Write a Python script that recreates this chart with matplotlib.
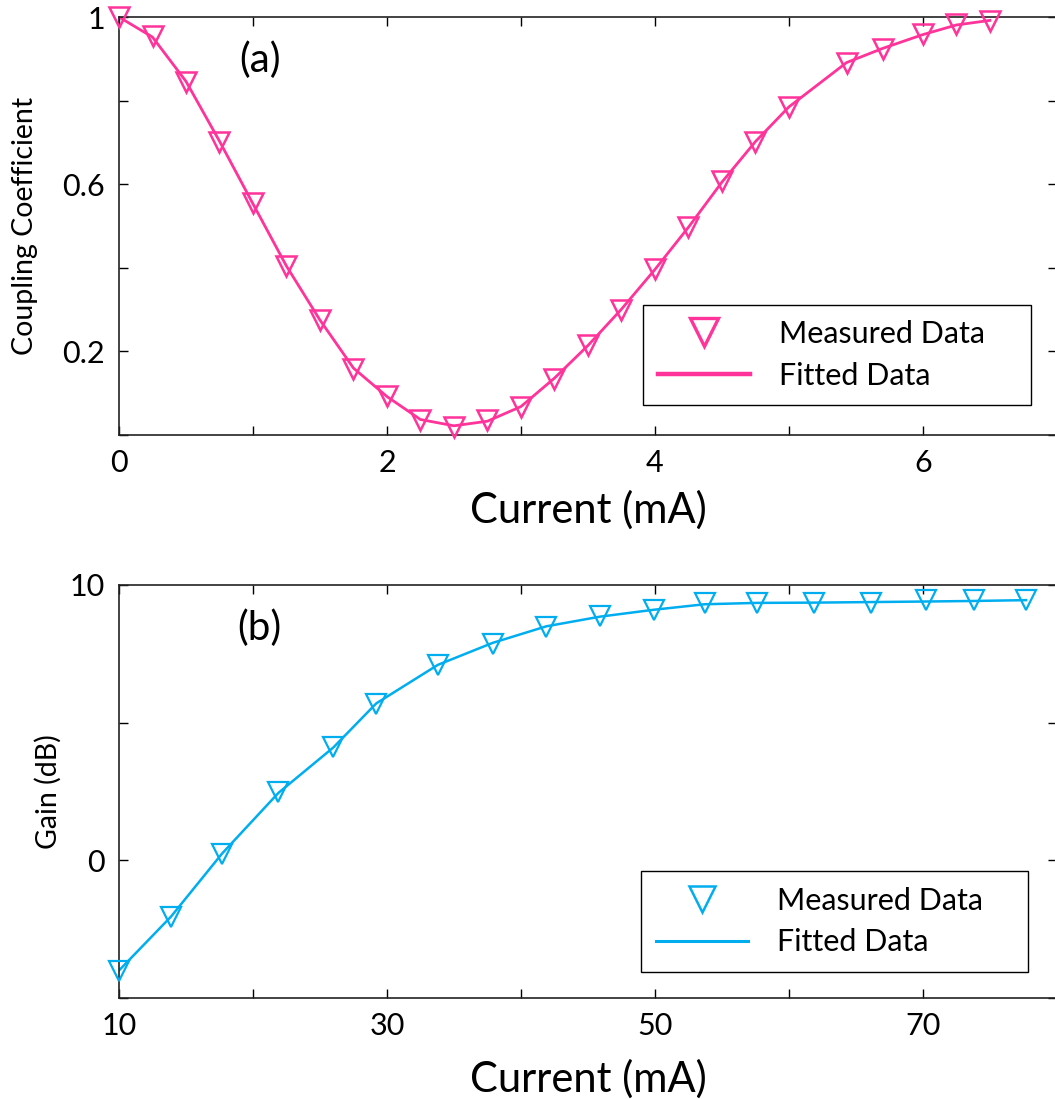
import matplotlib
matplotlib.use('Agg')
import matplotlib.pyplot as plt

plt.rcParams['font.family'] = ['Lato', 'DejaVu Sans']

# (a) acoplamiento vs corriente
corriente_a = [0.0, 0.25, 0.5, 0.75, 1.0, 1.25, 1.5, 1.75, 2.0, 2.25, 2.5, 2.75, 3.0,
               3.25, 3.5, 3.75, 4.0, 4.25, 4.5, 4.75, 5.0, 5.43, 5.7, 6.0, 6.25, 6.5]
medido_a = [1.0, 0.954, 0.845, 0.701, 0.555, 0.404, 0.274, 0.159, 0.093, 0.035, 0.019,
            0.035, 0.067, 0.134, 0.215, 0.300, 0.397, 0.497, 0.607, 0.701, 0.784,
            0.890, 0.924, 0.959, 0.983, 0.991]
ajuste_a = [1.0, 0.952, 0.846, 0.703, 0.553, 0.404, 0.275, 0.160, 0.092, 0.037, 0.022,
            0.033, 0.068, 0.136, 0.214, 0.301, 0.396, 0.497, 0.605, 0.702, 0.785,
            0.891, 0.925, 0.958, 0.981, 0.992]

# (b) ganancia vs corriente
corriente_b = [10.0, 13.87, 17.7, 21.9, 26.0, 29.2, 33.8, 37.9, 41.9, 45.9, 49.9,
               53.7, 57.6, 61.9, 66.1, 70.2, 73.8, 77.7]
medido_b = [-4.03, -2.07, 0.23, 2.48, 4.12, 5.68, 7.11, 7.85, 8.48, 8.89, 9.11,
            9.33, 9.33, 9.33, 9.33, 9.44, 9.44, 9.44]
ajuste_b = [-4.0, -2.05, 0.25, 2.45, 4.1, 5.7, 7.1, 7.9, 8.5, 8.85, 9.1,
            9.3, 9.35, 9.36, 9.38, 9.4, 9.42, 9.45]

xticks_a = [0, 1, 2, 3, 4, 5, 6, 7]
xlabels_a = ['0', '', '2', '', '4', '', '6', '']
yticks_a = [0, 0.2, 0.4, 0.6, 0.8, 1.0]
ylabels_a = ['', '0.2', '', '0.6', '', '1']
xticks_b = [10, 20, 30, 40, 50, 60, 70, 80]
xlabels_b = ['10', '', '30', '', '50', '', '70', '']
yticks_b = [-5, 0, 5, 10]
ylabels_b = ['', '0', '', '10']

rosa = '#ff3399'
azul = '#00aeef'

fig = plt.figure(figsize=(10.55, 10.99), dpi=100)
ax1 = fig.add_axes([0.1128, 0.6042, 0.889, 0.3803])
ax2 = fig.add_axes([0.1128, 0.0919, 0.889, 0.3758])


def estilo_ejes(ax, xt, xl, yt, yl):
    ax.set_xticks(xt)
    ax.set_xticklabels(xl)
    ax.set_yticks(yt)
    ax.set_yticklabels(yl)
    ax.tick_params(direction='in', top=True, right=True, length=6.5, width=1.0,
                   labelsize=22, pad=10)
    for s in ax.spines.values():
        s.set_linewidth(1.2)
        s.set_color('#222222')


def leyenda(ax, caja, ms, mew, lw):
    h, l = ax.get_legend_handles_labels()
    leg = ax.legend(h[::-1], l[::-1], loc='lower left', bbox_to_anchor=caja,
                    mode='expand', borderaxespad=0, fontsize=22, fancybox=False,
                    edgecolor='black', framealpha=1, handlelength=3.0,
                    handletextpad=0.95, labelspacing=0.45, borderpad=0.5)
    leg.get_frame().set_linewidth(1.0)
    marca, linea = leg.legend_handles
    marca.set_markersize(ms)
    marca.set_markeredgewidth(mew)
    linea.set_linewidth(lw)
    return leg


# Panel (a)
ax1.plot(corriente_a, ajuste_a, '-', color=rosa, lw=2.0, label='Fitted Data', zorder=2)
ax1.plot(corriente_a, medido_a, 'v', color=rosa, ms=14, mfc='none', mew=1.8,
         label='Measured Data', zorder=3, clip_on=False)
ax1.set_xlim(0, 7)
ax1.set_ylim(0, 1)
estilo_ejes(ax1, xticks_a, xlabels_a, yticks_a, ylabels_a)
ax1.set_xlabel('Current (mA)', fontsize=30, labelpad=10)
ax1.set_ylabel('Coupling Coefficient', fontsize=20.5)
ax1.yaxis.set_label_coords(-0.086, 0.5)
ax1.text(0.150, 0.897, '(a)', transform=ax1.transAxes, fontsize=29,
         ha='center', va='center')
leyenda(ax1, (0.5586, 0.0718, 0.4136, 0.244), 20, 2.4, 3.2)

# Panel (b)
ax2.plot(corriente_b, ajuste_b, '-', color=azul, lw=1.8, label='Fitted Data', zorder=2)
ax2.plot(corriente_b, medido_b, 'v', color=azul, ms=14, mfc='none', mew=1.6,
         label='Measured Data', zorder=3, clip_on=False)
ax2.set_xlim(10, 80)
ax2.set_ylim(-5, 10)
estilo_ejes(ax2, xticks_b, xlabels_b, yticks_b, ylabels_b)
ax2.set_xlabel('Current (mA)', fontsize=30, labelpad=14)
ax2.set_ylabel('Gain (dB)', fontsize=20.5)
ax2.yaxis.set_label_coords(-0.061, 0.5)
ax2.text(0.150, 0.896, '(b)', transform=ax2.transAxes, fontsize=29,
         ha='center', va='center')
leyenda(ax2, (0.5565, 0.0637, 0.4122, 0.248), 19, 1.8, 2.2)

fig.savefig('out.png', dpi=100)
